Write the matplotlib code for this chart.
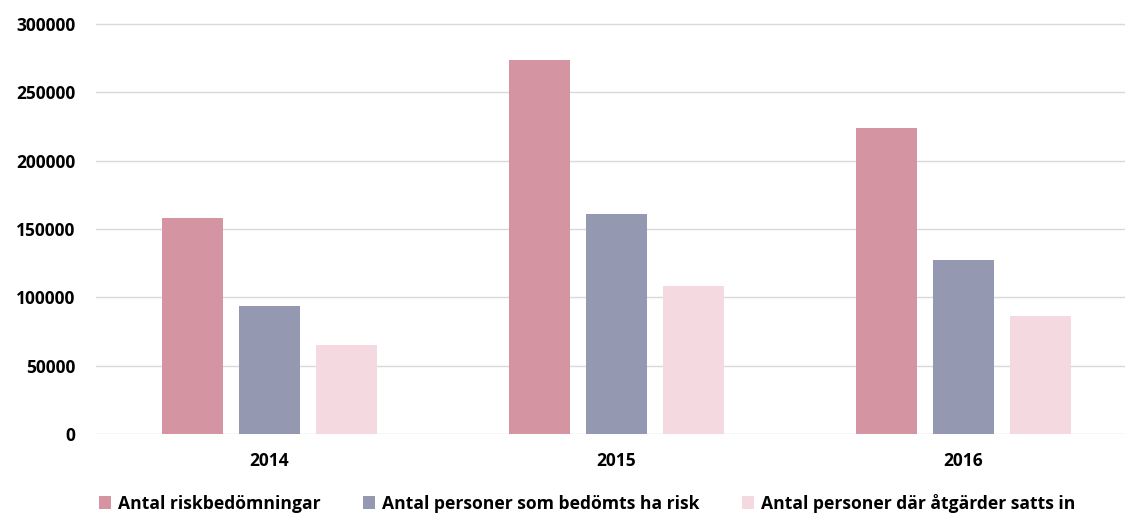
import matplotlib
matplotlib.use("Agg")
import matplotlib.pyplot as plt
import numpy as np

years = ["2014", "2015", "2016"]
series_names = [
    "Antal riskbedömningar",
    "Antal personer som bedömts ha risk",
    "Antal personer där åtgärder satts in",
]
riskbedomningar = [158000, 274000, 224000]
bedomts_risk = [94000, 161000, 127000]
atgarder = [65000, 108000, 86000]
y_ticks = [0, 50000, 100000, 150000, 200000, 250000, 300000]

colors = ["#D594A1", "#9498B1", "#F4DAE0"]

plt.rcParams["font.family"] = ["Open Sans", "DejaVu Sans"]
plt.rcParams["font.weight"] = "bold"

W, H = 1125, 519
fig = plt.figure(figsize=(W / 100, H / 100), dpi=100)

y_top = 303000
px_per_unit = 410 / 300000
ax_h_px = y_top * px_per_unit
ax = fig.add_axes([96 / W, 85 / H, (W - 96) / W, ax_h_px / H])

x = np.arange(len(years))
step = 0.222
width = 0.176
for i, (vals, name) in enumerate(zip([riskbedomningar, bedomts_risk, atgarder], series_names)):
    ax.bar(x + (i - 1) * step, vals, width=width, color=colors[i], label=name, zorder=3)

ax.set_xlim(-0.5, 2.467)
ax.set_ylim(0, y_top)
ax.set_yticks(y_ticks)
ax.set_yticklabels([str(v) for v in y_ticks], fontsize=12.5, fontweight="bold")
ax.set_xticks(x)
ax.set_xticklabels(years, fontsize=12.5, fontweight="bold")
ax.tick_params(axis="both", length=0)
ax.tick_params(axis="y", pad=15)
ax.tick_params(axis="x", pad=13)
ax.yaxis.grid(True, color="#D9D9D9", linewidth=1.0, zorder=0)
for s in ax.spines.values():
    s.set_visible(False)

leg = fig.legend(
    loc="lower center", bbox_to_anchor=(0.522, -0.018), ncol=3, frameon=False,
    handlelength=0.7, handleheight=0.7, handletextpad=0.4,
    columnspacing=2.4, prop={"weight": "bold", "size": 12.6},
)

fig.savefig("out.png", dpi=100)
